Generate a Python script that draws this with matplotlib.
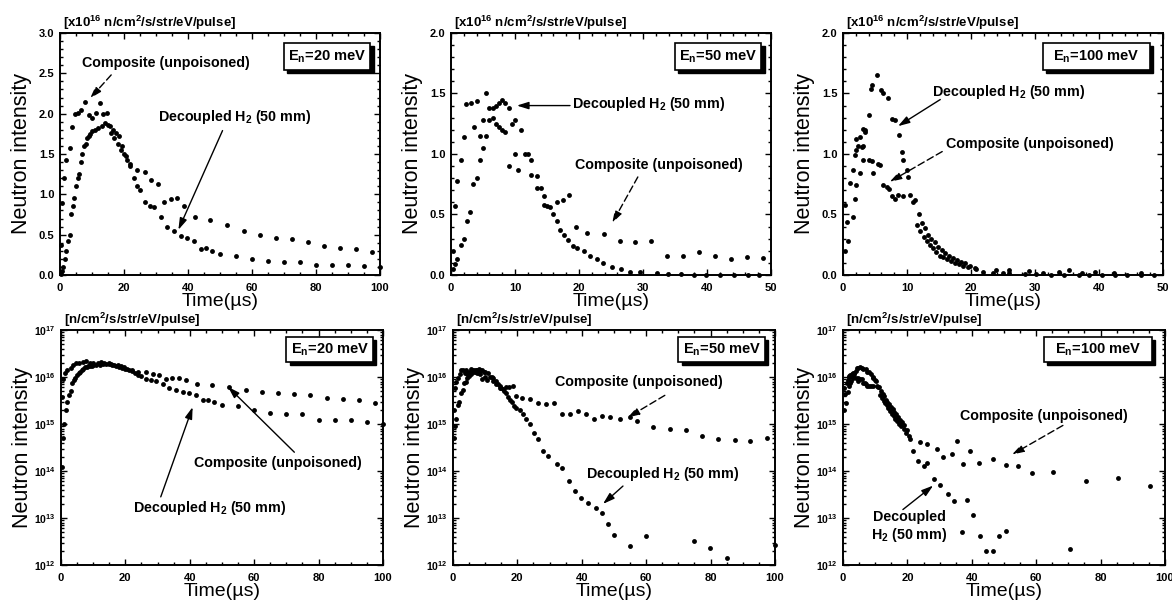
import numpy as np
import matplotlib.pyplot as plt
from matplotlib.patches import Rectangle
from matplotlib.ticker import MultipleLocator, LogLocator, FuncFormatter, NullFormatter

plt.rcParams['font.family'] = ['Liberation Sans', 'DejaVu Sans']
plt.rcParams['font.weight'] = 'bold'
plt.rcParams['mathtext.fontset'] = 'custom'
plt.rcParams['mathtext.rm'] = 'Liberation Sans:bold'
plt.rcParams['mathtext.bf'] = 'Liberation Sans:bold'
plt.rcParams['mathtext.it'] = 'Liberation Sans:bold'

# --- data, intensity in units of 1e16 n/cm2/s/str/eV/pulse, time in us ---
# En = 20 meV
t_comp20 = [0.3, 0.7, 1.2, 2.0, 3.0, 3.8, 4.6, 5.6, 6.7, 7.7, 9.0, 10.0, 11.4, 12.4,
            13.4, 14.8, 15.5, 16.5, 17.6, 18.5, 19.5, 20.5, 22.0, 24.0, 26.5, 28.5,
            30.5, 32.5, 34.6, 36.7, 38.8, 42.2, 47.0, 52.1, 57.5, 62.5, 67.5, 72.5,
            77.5, 82.5, 87.5, 92.5, 97.5]
v_comp20 = [0.37, 0.89, 1.20, 1.43, 1.58, 1.83, 1.99, 2.01, 2.05, 2.15, 1.98, 1.95, 2.01, 2.13,
            2.00, 2.01, 1.85, 1.80, 1.76, 1.72, 1.60, 1.48, 1.38, 1.30, 1.28, 1.18,
            1.13, 0.90, 0.94, 0.95, 0.85, 0.72, 0.68, 0.62, 0.54, 0.49, 0.46, 0.44,
            0.41, 0.36, 0.34, 0.32, 0.28]
t_dec20 = [0.3, 0.6, 1.0, 1.5, 2.0, 2.5, 3.0, 3.5, 4.0, 4.5, 5.0, 5.5, 6.0, 6.5, 7.0, 7.5,
           8.0, 8.5, 9.0, 9.5, 10.0, 11.0, 12.0, 13.0, 14.0, 15.0, 16.0, 17.0, 18.0, 19.0,
           20.0, 21.0, 22.0, 23.0, 24.0, 25.0, 26.5, 28.0, 29.5, 31.7, 33.5, 35.6, 37.9,
           39.8, 41.8, 44.0, 45.7, 47.5, 50.0, 55.0, 60.0, 65.0, 70.0, 75.0, 80.0, 85.0,
           90.0, 95.0, 100.0]
v_dec20 = [0.012, 0.05, 0.10, 0.20, 0.30, 0.42, 0.50, 0.75, 0.85, 0.95, 1.10, 1.20, 1.25, 1.40,
           1.50, 1.60, 1.62, 1.70, 1.72, 1.75, 1.78, 1.80, 1.82, 1.85, 1.88, 1.86, 1.76, 1.70,
           1.62, 1.55, 1.50, 1.42, 1.35, 1.20, 1.10, 1.05, 0.90, 0.85, 0.84, 0.72, 0.59, 0.54,
           0.48, 0.46, 0.42, 0.32, 0.33, 0.30, 0.26, 0.24, 0.20, 0.17, 0.16, 0.16, 0.12, 0.12,
           0.12, 0.11, 0.10]

# En = 50 meV
t_comp50 = [0.3, 0.6, 1.0, 1.6, 2.1, 2.4, 3.1, 3.6, 4.0, 4.5, 5.0, 5.5, 6.0, 6.5, 7.0, 7.5,
            8.0, 8.5, 9.0, 9.5, 10.0, 10.5, 11.5, 12.5, 13.5, 14.5, 15.5, 16.5, 17.5, 18.5,
            19.5, 21.3, 23.9, 26.4, 28.8, 31.3, 33.8, 36.3, 38.8, 41.3, 43.8, 46.3, 48.8,
            51.9, 55.0, 57.2, 62.2, 67.4, 72.4, 77.5, 82.4, 87.6, 92.4, 97.4]
v_comp50 = [0.20, 0.57, 0.78, 0.95, 1.14, 1.41, 1.42, 1.22, 1.44, 1.15, 1.28, 1.50, 1.38, 1.30,
            1.25, 1.22, 1.20, 1.18, 0.90, 1.25, 1.00, 0.87, 1.00, 0.83, 0.72, 0.58, 0.56, 0.60,
            0.62, 0.66, 0.40, 0.35, 0.34, 0.28, 0.27, 0.28, 0.16, 0.16, 0.19, 0.16, 0.13, 0.15,
            0.14, 0.13, 0.14, 0.115, 0.087, 0.078, 0.074, 0.056, 0.049, 0.046, 0.044, 0.051]
t_dec50 = [0.3, 0.7, 1.0, 1.5, 2.0, 2.5, 3.0, 3.5, 4.0, 4.5, 5.0, 5.5, 6.0, 6.5, 7.0, 7.5,
           8.0, 8.5, 9.0, 10.0, 11.0, 12.0, 12.5, 13.5, 14.0, 14.5, 15.0, 16.0, 16.5, 17.0,
           17.7, 18.3, 19.0, 19.7, 20.8, 21.8, 22.8, 23.8, 25.2, 26.5, 28.0, 29.6, 32.2,
           33.9, 36.0, 37.9, 39.9, 42.0, 44.3, 46.4, 48.2, 50.1, 55.0, 60.0, 74.9, 79.8,
           85.0, 100.0]
v_dec50 = [0.05, 0.09, 0.13, 0.25, 0.30, 0.45, 0.52, 0.75, 0.80, 0.95, 1.05, 1.15, 1.28, 1.38,
           1.40, 1.42, 1.45, 1.42, 1.38, 1.28, 1.20, 1.00, 0.95, 0.82, 0.72, 0.65, 0.57, 0.50,
           0.45, 0.37, 0.33, 0.29, 0.24, 0.22, 0.195, 0.16, 0.13, 0.10, 0.066, 0.048, 0.027,
           0.021, 0.0138, 0.0117, 0.0062, 0.0037, 0.0027, 0.0021, 0.0016, 0.0013, 0.00074,
           0.00044, 0.00025, 0.00041, 0.00033, 0.00023, 0.000138, 0.00027]

# En = 100 meV
t_comp100 = [0.3, 0.57, 1.1, 1.6, 1.9, 2.0, 2.1, 2.4, 2.7, 2.9, 3.2, 3.5, 4.0, 4.5, 4.7, 5.4,
             5.8, 6.3, 6.8, 7.2, 7.6, 8.1, 8.6, 9.4, 10.5, 10.9, 11.5, 12.0, 12.6, 13.1, 13.6,
             14.1, 14.6, 15.2, 15.7, 16.3, 16.9, 17.5, 18.1, 18.8, 19.5, 20.8, 23.9, 26.0,
             29.1, 31.2, 33.7, 35.3, 37.4, 39.4, 42.3, 46.5, 50.5, 54.5, 58.6, 65.3, 75.5,
             85.5, 95.5]
v_comp100 = [0.58, 0.44, 0.76, 0.87, 0.99, 1.03, 1.12, 1.07, 1.14, 1.06, 1.21, 1.18, 0.95, 0.94,
             0.84, 0.92, 0.91, 0.74, 0.73, 0.71, 0.65, 0.63, 0.66, 0.65, 0.66, 0.60, 0.41, 0.36,
             0.31, 0.28, 0.25, 0.22, 0.19, 0.16, 0.145, 0.13, 0.115, 0.10, 0.09, 0.078, 0.065,
             0.048, 0.041, 0.037, 0.030, 0.020, 0.023, 0.044, 0.0138, 0.027, 0.015, 0.018,
             0.0135, 0.0129, 0.0091, 0.0095, 0.0062, 0.0072, 0.0048]
t_dec100 = [0.3, 0.8, 1.5, 1.9, 2.1, 2.6, 3.1, 3.2, 3.4, 4.0, 4.3, 4.6, 5.3, 5.9, 6.3, 7.1,
            7.6, 8.1, 8.8, 9.2, 9.4, 10.0, 10.2, 11.2, 11.8, 12.3, 12.8, 13.3, 13.8, 14.3,
            14.8, 15.4, 15.9, 16.5, 17.2, 17.8, 18.4, 19.0, 19.8, 20.6, 21.8, 23.4, 25.0,
            26.0, 28.4, 30.1, 32.5, 34.6, 36.9, 38.4, 40.5, 42.5, 44.4, 46.5, 48.6, 50.6, 70.5]
v_dec100 = [0.20, 0.28, 0.48, 0.63, 0.74, 0.84, 0.95, 1.07, 1.20, 1.32, 1.54, 1.57, 1.65, 1.53,
            1.50, 1.46, 1.29, 1.28, 1.16, 1.02, 0.95, 0.87, 0.81, 0.62, 0.50, 0.43, 0.39, 0.33,
            0.30, 0.27, 0.23, 0.21, 0.18, 0.16, 0.14, 0.12, 0.11, 0.095, 0.075, 0.056, 0.027,
            0.016, 0.0126, 0.015, 0.0069, 0.0051, 0.0032, 0.0023, 0.00051, 0.0024, 0.00117,
            0.00041, 0.0002, 0.0002, 0.00042, 0.00054, 0.00022]

energies = ['20', '50', '100']
series = {
    '20': (t_comp20, v_comp20, t_dec20, v_dec20),
    '50': (t_comp50, v_comp50, t_dec50, v_dec50),
    '100': (t_comp100, v_comp100, t_dec100, v_dec100),
}
lin_xmax = {'20': 100, '50': 50, '100': 50}
lin_ymax = {'20': 3.0, '50': 2.0, '100': 2.0}

DEC = r'Decoupled H$_\mathbf{2}$ (50 mm)'
COMP = 'Composite (unpoisoned)'

fig = plt.figure(figsize=(11.72, 6.05), dpi=100)
top_lefts = [0.0512, 0.3848, 0.7193]
bot_lefts = [0.0520, 0.3865, 0.7193]
axes_top = [fig.add_axes([l, 0.5455, 0.2730, 0.40]) for l in top_lefts]
axes_bot = [fig.add_axes([l, 0.0661, 0.2747, 0.3884]) for l in bot_lefts]


def style(ax):
    ax.tick_params(which='both', direction='in', top=True, right=True,
                   labelsize=8, width=1.0)
    ax.tick_params(axis='x', pad=5.5)
    ax.tick_params(axis='y', pad=4)
    ax.tick_params(which='major', length=4.5)
    ax.tick_params(which='minor', length=2.5)
    for s in ax.spines.values():
        s.set_linewidth(1.4)
    ax.set_xlabel('Time(\u00b5s)', fontsize=14, fontweight='normal', labelpad=0)
    ax.set_ylabel('Neutron intensity', fontsize=15.5, fontweight='normal')
    ax.yaxis.set_label_coords(-0.088, 0.5)


def energy_box(ax, x0, x1, y0, y1, label):
    w, h = x1 - x0, y1 - y0
    ax.add_patch(Rectangle((x0 + 0.01, y0 - 0.014), w, h, transform=ax.transAxes,
                           facecolor='black', edgecolor='black', zorder=5))
    ax.add_patch(Rectangle((x0, y0), w, h, transform=ax.transAxes,
                           facecolor='white', edgecolor='black', lw=1.2, zorder=6))
    ax.text((x0 + x1) / 2, (y0 + y1) / 2, label, transform=ax.transAxes,
            ha='center', va='center', fontsize=10.5, zorder=7)


def note(ax, text, xy_text, xy_from, xy_to, dashed):
    ax.text(xy_text[0], xy_text[1], text, ha='center', va='center', fontsize=10.3)
    ax.annotate('', xy=xy_to, xytext=xy_from,
                arrowprops=dict(arrowstyle='-|>,head_length=0.7,head_width=0.22',
                                color='black', lw=1.0,
                                linestyle=(0, (5, 2.5)) if dashed else '-',
                                shrinkA=0, shrinkB=0))


box_x = {'20': (0.70, 0.97), '50': (0.70, 0.97), '100': (0.625, 0.96)}

# linear panels
for ax, e in zip(axes_top, energies):
    tc, vc, td, vd = series[e]
    xm = lin_xmax[e]
    for t, v in ((tc, vc), (td, vd)):
        t = np.asarray(t)
        v = np.asarray(v)
        m = t <= xm
        ax.plot(t[m], v[m], 'o', color='black', ms=3.5, mew=0, clip_on=False, zorder=3)
    ax.set_xlim(0, xm)
    ax.set_ylim(0, lin_ymax[e])
    ax.xaxis.set_major_locator(MultipleLocator(xm / 5))
    ax.xaxis.set_minor_locator(MultipleLocator(xm / 20 if xm == 100 else 2))
    ax.yaxis.set_major_locator(MultipleLocator(0.5))
    ax.yaxis.set_minor_locator(MultipleLocator(0.1))
    ax.yaxis.set_major_formatter(FuncFormatter(lambda v, p: '%.1f' % v))
    style(ax)
    ax.text(0.01, 1.004, r'[x10$^\mathbf{16}$ n/cm$^\mathbf{2}$/s/str/eV/pulse]',
            transform=ax.transAxes, ha='left', va='bottom', fontsize=9.5)
    bx = box_x[e]
    energy_box(ax, bx[0], bx[1], 0.847, 0.96, r'E$_\mathbf{n}$=%s meV' % e)

# annotations, linear panels
note(axes_top[0], COMP, (33, 2.63), (16, 2.48), (9.4, 2.19), True)
note(axes_top[0], DEC, (54.5, 1.96), (50.8, 1.79), (37, 0.56), False)
note(axes_top[1], DEC, (30.8, 1.41), (18.6, 1.40), (10.3, 1.40), False)
note(axes_top[1], COMP, (32.5, 0.91), (29.2, 0.81), (25.2, 0.43), True)
note(axes_top[2], DEC, (25.8, 1.51), (15.2, 1.45), (8.6, 1.23), False)
note(axes_top[2], COMP, (29.2, 1.08), (15.5, 1.02), (7.3, 0.77), True)

# log panels
for ax, e in zip(axes_bot, energies):
    tc, vc, td, vd = series[e]
    for t, v in ((tc, vc), (td, vd)):
        ax.plot(t, np.asarray(v) * 1e16, 'o', color='black', ms=3.5, mew=0,
                clip_on=False, zorder=3)
    ax.set_yscale('log')
    ax.set_xlim(0, 100)
    ax.set_ylim(1e12, 1e17)
    ax.xaxis.set_major_locator(MultipleLocator(20))
    ax.xaxis.set_minor_locator(MultipleLocator(5))
    ax.yaxis.set_major_locator(LogLocator(base=10, numticks=10))
    ax.yaxis.set_minor_locator(LogLocator(base=10, subs=np.arange(2, 10), numticks=10))
    ax.yaxis.set_minor_formatter(NullFormatter())
    ax.yaxis.set_major_formatter(FuncFormatter(
        lambda v, p: r'$\mathbf{10^{%d}}$' % round(np.log10(v))))
    style(ax)
    ax.tick_params(axis='y', labelsize=7.5)
    ax.text(0.01, 1.004, '[n/cm$^\\mathbf{2}$/s/str/eV/pulse]',
            transform=ax.transAxes, ha='left', va='bottom', fontsize=9.5)
    bx = box_x[e]
    energy_box(ax, bx[0], bx[1], 0.864, 0.97, r'E$_\mathbf{n}$=%s meV' % e)

note(axes_bot[0], COMP, (67.5, 1.5e14), (72.5, 10 ** 14.4), (51.9, 10 ** 15.79), False)
note(axes_bot[0], DEC, (46, 10 ** 13.21), (31, 10 ** 13.45), (40.9, 10 ** 15.36), False)
note(axes_bot[1], COMP, (57.8, 10 ** 15.89), (65.8, 10 ** 15.61), (54.3, 10 ** 15.14), True)
note(axes_bot[1], DEC, (65, 10 ** 13.94), (52.8, 10 ** 13.68), (46.6, 10 ** 13.3), False)
note(axes_bot[2], COMP, (62.4, 10 ** 15.18), (68.3, 10 ** 14.97), (52.5, 10 ** 14.35), True)
note(axes_bot[2], 'Decoupled\nH$_\\mathbf{2}$ (50 mm)', (20.5, 10 ** 12.81),
     (18.6, 10 ** 13.18), (28, 10 ** 13.69), False)

fig.savefig('out.png', dpi=100)
